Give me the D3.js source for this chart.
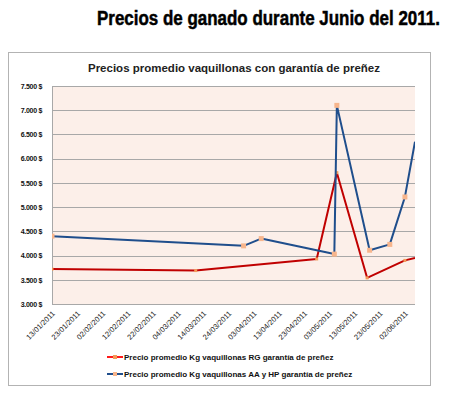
<!DOCTYPE html>
<html>
<head>
    <meta charset="utf-8">
    <title>Precios de ganado</title>
    <script src="https://d3js.org/d3.v7.min.js"></script>
    <style>
        body { margin: 0; background: #fff; }
    </style>
</head>
<body>
    <div id="chart"></div>
<script>
    // data
    var datesRG = ["13/01/2011", "11/03/2011", "28/04/2011", "06/05/2011", "18/05/2011", "02/06/2011", "06/06/2011"];
    var valuesRG = [3720, 3690, 3930, 5710, 3540, 3900, 3950];

    var datesAA = ["13/01/2011", "30/03/2011", "06/04/2011", "05/05/2011", "06/05/2011", "19/05/2011", "27/05/2011", "02/06/2011", "06/06/2011"];
    var valuesAA = [4400, 4200, 4350, 4030, 7100, 4110, 4230, 5210, 6350];

    var xTickLabels = ["13/01/2011", "23/01/2011", "02/02/2011", "12/02/2011", "22/02/2011", "04/03/2011", "14/03/2011",
        "24/03/2011", "03/04/2011", "13/04/2011", "23/04/2011", "03/05/2011", "13/05/2011", "23/05/2011", "02/06/2011"];
    var yTicks = [3000, 3500, 4000, 4500, 5000, 5500, 6000, 6500, 7000, 7500];

    var seriesNames = ["Precio promedio Kg vaquillonas RG garantía de preñez",
        "Precio promedio Kg vaquillonas AA y HP garantía de preñez"];

    var width = 450;
    var height = 395;
    var plot = { left: 52, right: 415, top: 86, bottom: 304 };

    var parse = d3.timeParse("%d/%m/%Y");
    var fmtDate = d3.timeFormat("%d/%m/%Y");

    var svg = d3.select("#chart")
        .append("svg")
        .attr("width", width)
        .attr("height", height)
        .style("font-family", "'Liberation Sans', Arial, sans-serif");

    // page title, squeezed horizontally like the condensed original
    var title = svg.append("text")
        .attr("x", 0)
        .attr("y", 0)
        .style("font-size", "21px")
        .style("font-weight", "bold")
        .style("fill", "#000")
        .style("stroke", "#000")
        .style("stroke-width", 0.5)
        .text("Precios de ganado durante Junio del 2011.");
    var tw = title.node().getComputedTextLength();
    title.attr("transform", "translate(97,25) scale(" + (343 / tw) + ",1)");

    // chart frame
    svg.append("rect")
        .attr("x", 8.5)
        .attr("y", 52.5)
        .attr("width", 422)
        .attr("height", 333)
        .style("fill", "#fff")
        .style("stroke", "#b3b3b3")
        .style("stroke-width", 1);

    svg.append("text")
        .attr("x", 234)
        .attr("y", 72)
        .attr("text-anchor", "middle")
        .style("font-size", "11.5px")
        .style("font-weight", "bold")
        .style("fill", "#222")
        .text("Precios promedio vaquillonas con garantía de preñez");

    // scales
    var x_scale = d3.scaleTime()
        .domain([parse("13/01/2011"), parse("06/06/2011")])
        .range([plot.left, plot.right]);

    var y_scale = d3.scaleLinear()
        .domain([3000, 7500])
        .range([plot.bottom, plot.top]);

    // plot background
    svg.append("rect")
        .attr("x", plot.left)
        .attr("y", plot.top)
        .attr("width", plot.right - plot.left)
        .attr("height", plot.bottom - plot.top)
        .style("fill", "#fcefe9");

    // horizontal grid
    svg.append("g")
        .selectAll("line")
        .data(yTicks)
        .enter()
        .append("line")
        .attr("x1", plot.left)
        .attr("x2", plot.right)
        .attr("y1", function (d) { return Math.round(y_scale(d)) + 0.5; })
        .attr("y2", function (d) { return Math.round(y_scale(d)) + 0.5; })
        .style("stroke", "#a8a8a8")
        .style("stroke-width", 1);

    // y axis
    var y_axis = d3.axisLeft(y_scale)
        .tickValues(yTicks)
        .tickSize(0)
        .tickPadding(10)
        .tickFormat(function (d) { return d3.format(",")(d).replace(",", ".") + " $"; });

    var gy = svg.append("g")
        .attr("transform", "translate(" + plot.left + ",0)")
        .call(y_axis);
    gy.select(".domain").style("stroke", "#a8a8a8");
    gy.selectAll("text")
        .style("font-size", "7px")
        .style("font-weight", "bold")
        .style("letter-spacing", "-0.3px")
        .style("fill", "#111");

    // x axis
    var x_axis = d3.axisBottom(x_scale)
        .tickValues(xTickLabels.map(parse))
        .tickSize(0)
        .tickFormat(fmtDate);

    var gx = svg.append("g")
        .attr("transform", "translate(0," + plot.bottom + ")")
        .call(x_axis);
    gx.select(".domain").remove();
    gx.selectAll("text")
        .attr("text-anchor", "end")
        .attr("dy", null)
        .attr("y", 0)
        .attr("transform", "translate(3,10) rotate(-45)")
        .style("font-size", "7.5px")
        .style("fill", "#222");

    // lines
    svg.append("clipPath")
        .attr("id", "clip")
        .append("rect")
        .attr("x", plot.left)
        .attr("y", plot.top - 6)
        .attr("width", plot.right - plot.left)
        .attr("height", plot.bottom - plot.top + 6);

    var series = [
        { dates: datesRG, values: valuesRG, color: "#c00000", marker: "#f39a5a", size: 3 },
        { dates: datesAA, values: valuesAA, color: "#1f4e8c", marker: "#f7b58c", size: 5 }
    ];

    var line = d3.line()
        .x(function (d) { return x_scale(d.date); })
        .y(function (d) { return y_scale(d.value); });

    var gLines = svg.append("g").attr("clip-path", "url(#clip)");

    series.forEach(function (s) {
        var pts = s.dates.map(function (d, i) { return { date: parse(d), value: s.values[i] }; });
        gLines.append("path")
            .datum(pts)
            .attr("d", line)
            .style("fill", "none")
            .style("stroke", s.color)
            .style("stroke-width", 2)
            .style("stroke-linejoin", "round");
        gLines.selectAll(null)
            .data(pts.slice(0, pts.length - 1))
            .enter()
            .append("rect")
            .attr("x", function (d) { return x_scale(d.date) - s.size / 2; })
            .attr("y", function (d) { return y_scale(d.value) - s.size / 2; })
            .attr("width", s.size)
            .attr("height", s.size)
            .style("fill", s.marker);
    });

    // legend
    var legendColors = ["#ff1a1a", "#1f4e8c"];
    var legendMarkers = ["#f39a5a", "#f7b58c"];
    var legend = svg.append("g");
    seriesNames.forEach(function (name, i) {
        var ly = 357 + i * 17;
        legend.append("line")
            .attr("x1", 107).attr("x2", 123)
            .attr("y1", ly).attr("y2", ly)
            .style("stroke", legendColors[i])
            .style("stroke-width", 2);
        legend.append("rect")
            .attr("x", 113).attr("y", ly - 2)
            .attr("width", 4).attr("height", 4)
            .style("fill", legendMarkers[i]);
        legend.append("text")
            .attr("x", 124)
            .attr("y", ly + 3)
            .style("font-size", "8px")
            .style("font-weight", "bold")
            .style("fill", "#111")
            .text(name);
    });
</script>
</body>
</html>
